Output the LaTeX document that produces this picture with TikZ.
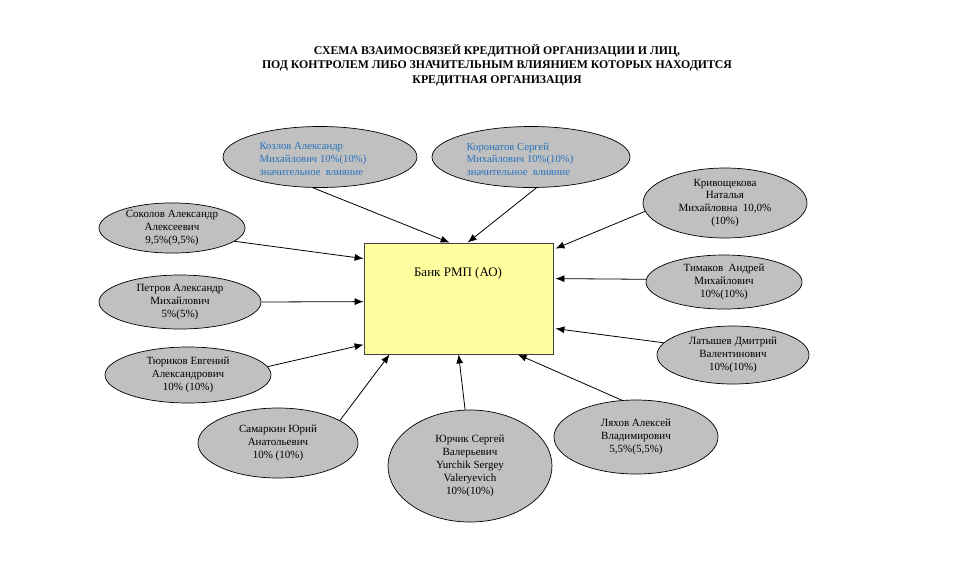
\documentclass[tikz,border=0pt]{standalone}
\usepackage{fontspec}
\setmainfont{Liberation Serif}
\usepackage{tikz}
\usetikzlibrary{calc}
\usetikzlibrary{shapes.geometric}
\usetikzlibrary{arrows.meta}

\definecolor{bankfill}{RGB}{255,255,160}
\definecolor{persfill}{RGB}{192,192,192}
\definecolor{persblue}{RGB}{40,115,190}

\begin{document}
\begin{tikzpicture}[x=1pt, y=-1pt,
    person/.style={ellipse, draw=black, line width=0.7pt, fill=persfill, inner sep=0pt, align=center,
        font=\fontsize{11}{12.9}\selectfont},
    bluetext/.style={text=persblue, align=left, inner sep=0pt, font=\fontsize{10.7}{12.6}\selectfont},
    bankbox/.style={rectangle, draw=black!75, line width=0.8pt, fill=bankfill, minimum width=189pt, minimum height=111pt},
    arr/.style={-{Latex[length=9pt,width=7pt]}, line width=0.8pt}]
    \useasboundingbox (0,0) rectangle (968,563);
    \node[align=center, font=\fontsize{11.8}{14.5}\selectfont\bfseries] (title) at (497,65)
        {СХЕМА ВЗАИМОСВЯЗЕЙ КРЕДИТНОЙ ОРГАНИЗАЦИИ И ЛИЦ,\\
         ПОД КОНТРОЛЕМ ЛИБО ЗНАЧИТЕЛЬНЫМ ВЛИЯНИЕМ КОТОРЫХ НАХОДИТСЯ\\
         КРЕДИТНАЯ ОРГАНИЗАЦИЯ};
    % bank
    \node[bankbox] (bank) at (458.5,298.5) {};
    \node[font=\fontsize{13}{15}\selectfont] (banktext) at (458,273) {Банк РМП (АО)};
    % persons
    \node[person, minimum width=194pt, minimum height=61pt] (kozlov) at (320,157) {};
    \node[bluetext] (kozlovtext) at ($(kozlov)+(-7,2)$)
        {Козлов Александр\\Михайлович 10\%(10\%)\\значительное~~влияние};
    \node[person, minimum width=198pt, minimum height=61pt] (koronatov) at (531,157) {};
    \node[bluetext] (koronatovtext) at ($(koronatov)+(-11,2)$)
        {Коронатов Сергей\\Михайлович 10\%(10\%)\\значительное~~влияние};
    \node[person, minimum width=164pt, minimum height=70pt] (krivoshchekova) at (725,203)
        {Кривощекова\\Наталья\\Михайловна~~10,0\%\\(10\%)};
    \node[person, minimum width=146pt, minimum height=50pt] (sokolov) at (172,228)
        {Соколов Александр\\Алексеевич\\9,5\%(9,5\%)};
    \node[person, minimum width=162pt, minimum height=54pt] (petrov) at (180,302)
        {Петров Александр\\Михайлович\\5\%(5\%)};
    \node[person, minimum width=166pt, minimum height=56pt] (tyurikov) at (188,375)
        {Тюриков Евгений\\Александрович\\10\% (10\%)};
    \node[person, minimum width=160pt, minimum height=70pt] (samarkin) at (278,443)
        {Самаркин Юрий\\Анатольевич\\10\% (10\%)};
    \node[person, minimum width=164pt, minimum height=112pt] (yurchik) at (470,466)
        {Юрчик Сергей\\Валерьевич\\Yurchik Sergey\\Valeryevich\\10\%(10\%)};
    \node[person, minimum width=164pt, minimum height=74pt] (lyakhov) at (636,437)
        {Ляхов Алексей\\Владимирович\\5,5\%(5,5\%)};
    \node[person, minimum width=152pt, minimum height=58pt] (latyshev) at (733,355)
        {Латышев Дмитрий\\Валентинович\\10\%(10\%)};
    \node[person, minimum width=156pt, minimum height=54pt] (timakov) at (724,282)
        {Тимаков~~Андрей\\Михайлович\\10\%(10\%)};
    % links
    \draw[arr] (kozlov.257) -- ($(bank.north west)+(86,0)$);
    \draw[arr] (koronatov.280) -- ($(bank.north west)+(104,0)$);
    \draw[arr] (krivoshchekova.186) -- ($(bank.north east)+(2,6)$);
    \draw[arr] (sokolov.348) -- ($(bank.north west)+(0,16)$);
    \draw[arr] (petrov.0) -- ($(bank.north west)+(0,59)$);
    \draw[arr] (tyurikov.6) -- ($(bank.north west)+(0,102)$);
    \draw[arr] (samarkin.20) -- ($(bank.south west)+(26,0)$);
    \draw[arr] (yurchik.95) -- ($(bank.south west)+(95,0)$);
    \draw[arr] (lyakhov.111) -- ($(bank.south west)+(154,0)$);
    \draw[arr] (latyshev.170) -- ($(bank.north east)+(2,86)$);
    \draw[arr] (timakov.178) -- ($(bank.north east)+(2,36)$);
\end{tikzpicture}
\end{document}
